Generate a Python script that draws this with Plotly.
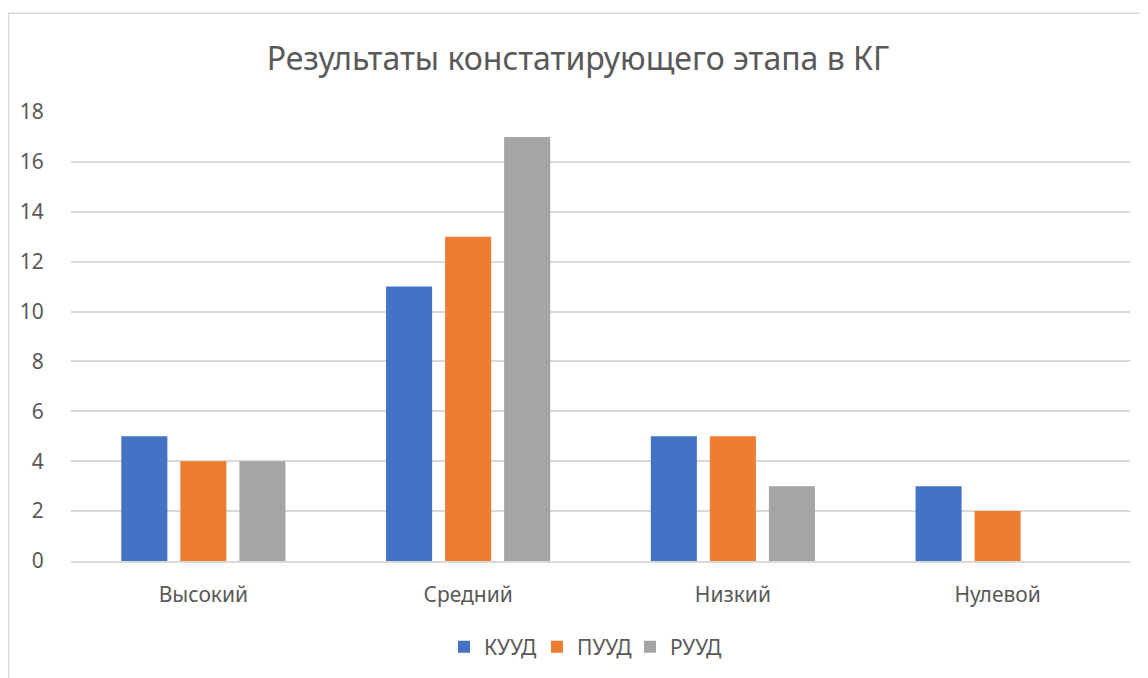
import plotly.graph_objects as go

categories = ["Высокий", "Средний", "Низкий", "Нулевой"]
kuud = [5, 11, 5, 3]
puud = [4, 13, 5, 2]
ruud = [4, 17, 3, 0]
series_names = ["КУУД", "ПУУД", "РУУД"]
colors = ["#4472C4", "#ED7D31", "#A5A5A5"]
title_text = "Результаты констатирующего этапа в КГ"

font_family = "'Noto Sans', 'Open Sans', sans-serif"
text_color = "#595959"

# page body has an 8px margin; figure coords = screen coords - 8
W, H = 1140, 670
L, T = 63, 104
PW, PH = 1059, 450

fig = go.Figure()
for name, vals, col in zip(series_names, [kuud, puud, ruud], colors):
    fig.add_trace(go.Bar(x=categories, y=vals, name=name, marker=dict(color=col, line=dict(width=0))))

fig.update_layout(
    width=W, height=H,
    margin=dict(l=L, r=W - L - PW, t=T, b=H - T - PH, pad=0),
    paper_bgcolor="white", plot_bgcolor="white",
    barmode="group", bargap=0.331, bargroupgap=0.22,
    title=dict(text=title_text, x=(578 - 8) / W, xanchor="center", y=1 - (59 - 8) / H, yanchor="middle",
               font=dict(family=font_family, size=32, color=text_color)),
    font=dict(family=font_family, color=text_color, size=16),
    legend=dict(orientation="h", x=(444 - 71) / PW, xanchor="left", y=(562 - 647) / PH, yanchor="middle",
                font=dict(size=21, color=text_color), traceorder="normal",
                entrywidth=48, entrywidthmode="pixels"),
    showlegend=True,
)
fig.update_yaxes(range=[0, 18], dtick=2, showgrid=True, gridcolor="#d9d9d9", gridwidth=1.5,
                 zeroline=False, showline=False, ticks="outside", ticklen=22, tickcolor="white",
                 tickfont=dict(size=21, color=text_color))
fig.update_xaxes(showgrid=False, showline=True, linecolor="#d9d9d9", linewidth=1.5,
                 ticks="outside", ticklen=14, tickcolor="white",
                 tickfont=dict(size=21, color=text_color))

fig.add_shape(type="rect", xref="paper", yref="paper",
              x0=(8.5 - 71) / PW, x1=(1170 - 71) / PW,
              y0=(562 - 700) / PH, y1=(562 - 13) / PH,
              line=dict(color="#d9d9d9", width=1.5), fillcolor="rgba(0,0,0,0)", layer="below")

fig.write_html("out.html")
